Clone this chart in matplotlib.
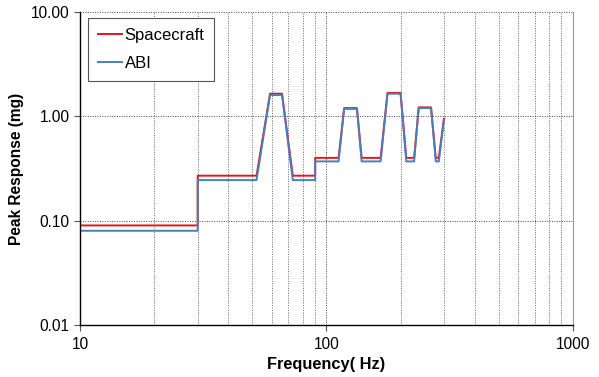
import numpy as np
import matplotlib
matplotlib.use("Agg")
from matplotlib import pyplot as plt
from matplotlib.ticker import FixedLocator, NullLocator, FormatStrFormatter

plt.rcParams['font.family'] = ['Liberation Sans', 'DejaVu Sans']

# frequency breakpoints (Hz) shared by both response curves
freq = [10, 30, 30, 52, 59, 66, 73, 90, 90, 112, 118, 133, 139,
        166, 177, 200, 211, 227, 237, 266, 278, 286, 300]

# peak response (mg)
spacecraft = [0.09, 0.09, 0.27, 0.27, 1.65, 1.65, 0.27, 0.27, 0.40, 0.40, 1.20, 1.20, 0.40,
              0.40, 1.68, 1.68, 0.40, 0.40, 1.22, 1.22, 0.40, 0.40, 0.95]
abi = [0.08, 0.08, 0.245, 0.245, 1.60, 1.60, 0.245, 0.245, 0.37, 0.37, 1.18, 1.18, 0.37,
       0.37, 1.65, 1.65, 0.37, 0.37, 1.20, 1.20, 0.37, 0.37, 0.92]

y_ticks = [0.01, 0.1, 1.0, 10.0]
x_ticks = [10, 100, 1000]

fig = plt.figure(figsize=(5.99, 3.77), dpi=100)
ax = fig.add_axes([0.134, 0.138, 0.822, 0.830])

ax.plot(freq, spacecraft, color='#e8141b', lw=1.4, label='Spacecraft')
ax.plot(freq, abi, color='#4a7ebb', lw=1.4, label='ABI')

ax.set_xscale('log')
ax.set_yscale('log')
ax.set_xlim(10, 1000)
ax.set_ylim(0.01, 10)

ax.yaxis.set_major_locator(FixedLocator(y_ticks))
ax.yaxis.set_minor_locator(NullLocator())
ax.yaxis.set_major_formatter(FormatStrFormatter('%.2f'))
ax.xaxis.set_major_locator(FixedLocator(x_ticks))
ax.xaxis.set_major_formatter(FormatStrFormatter('%d'))
minor_x = [m * d for d in (10, 100) for m in range(2, 10)]
ax.xaxis.set_minor_locator(FixedLocator(minor_x))

ax.tick_params(axis='both', which='major', labelsize=11.2, length=4, width=0.8,
               direction='out', color='#555555')
ax.tick_params(axis='x', which='major', pad=5)
ax.tick_params(axis='x', which='minor', length=0)

ax.grid(True, which='major', axis='both', color='#444444', ls=(0, (1, 1.5)), lw=0.7)
ax.grid(True, which='minor', axis='x', color='#666666', ls=(0, (1, 1.5)), lw=0.7)

ax.spines['left'].set_color('black')
ax.spines['bottom'].set_color('black')
ax.spines['left'].set_linewidth(1.0)
ax.spines['bottom'].set_linewidth(1.0)
ax.spines['top'].set_visible(False)
ax.spines['right'].set_color('#999999')
ax.spines['right'].set_linewidth(0.8)

ax.set_xlabel('Frequency( Hz)', fontsize=11.8, fontweight='bold', labelpad=3)
ax.set_ylabel('Peak Response (mg)', fontsize=11.2, fontweight='bold', labelpad=5)

leg = ax.legend(loc='upper left', bbox_to_anchor=(0.0156, 0.981), borderaxespad=0,
                fontsize=12, handlelength=1.45, handletextpad=0.15, labelspacing=0.75,
                borderpad=0.6, fancybox=False, framealpha=1)
leg.get_frame().set_edgecolor('#555555')
leg.get_frame().set_linewidth(0.8)

plt.savefig('out.png', dpi=100)
